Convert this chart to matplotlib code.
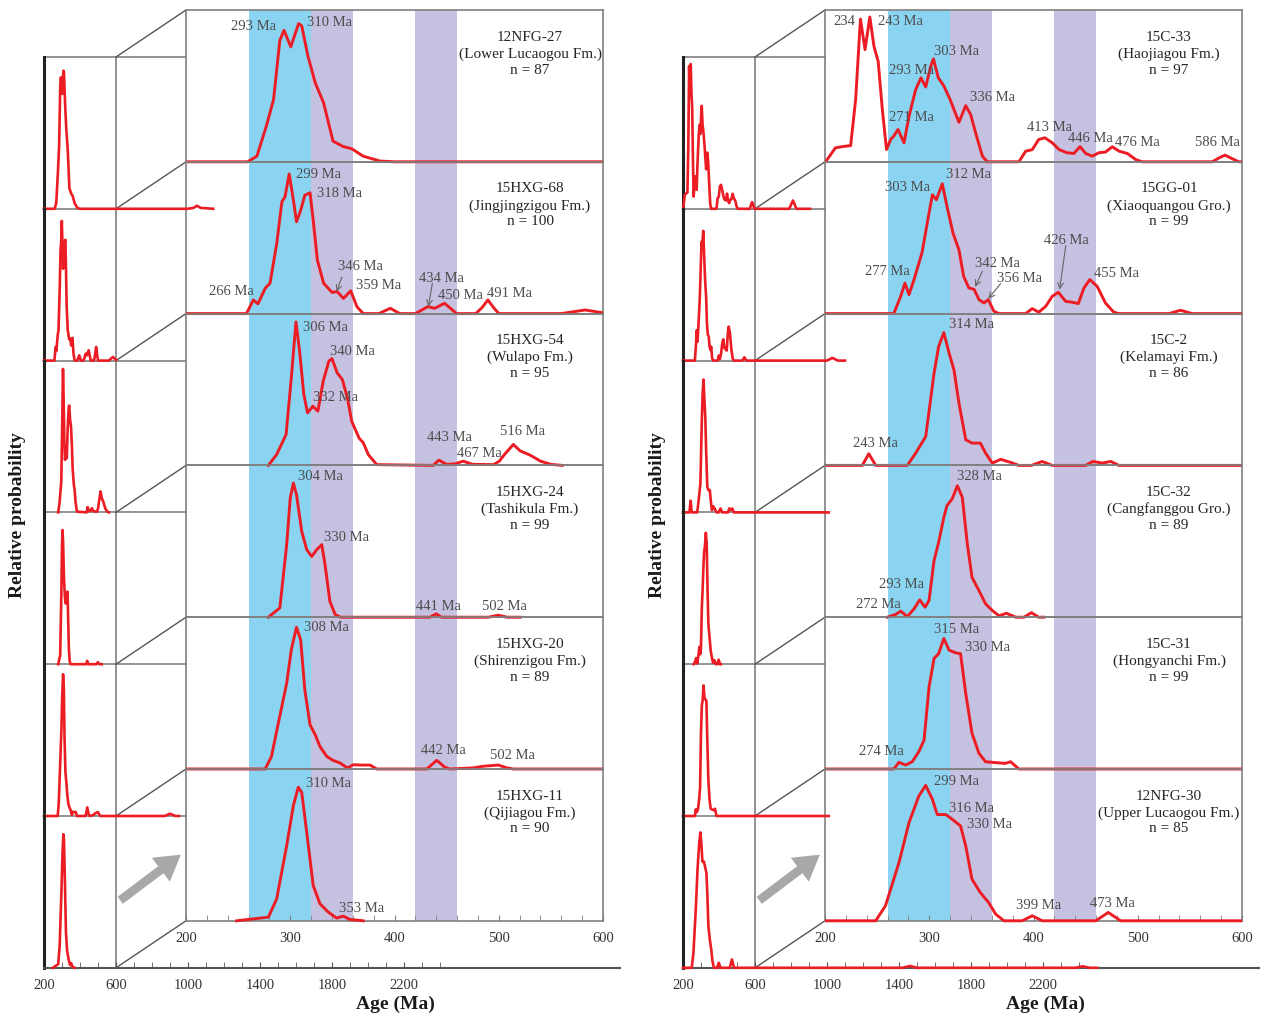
import matplotlib.pyplot as plt
from matplotlib.lines import Line2D
from matplotlib.patches import FancyArrowPatch
from matplotlib.transforms import Bbox, TransformedBbox
from matplotlib.ticker import MultipleLocator, FixedLocator

plt.rcParams['font.family'] = ['Liberation Serif', 'DejaVu Serif']

# ---------------- data ----------------
left_samples = ['12NFG-27', '15HXG-68', '15HXG-54', '15HXG-24', '15HXG-20', '15HXG-11']
left_units = ['(Lower Lucaogou Fm.)', '(Jingjingzigou Fm.)', '(Wulapo Fm.)',
              '(Tashikula Fm.)', '(Shirenzigou Fm.)', '(Qijiagou Fm.)']
left_n = [87, 100, 95, 99, 89, 90]

right_samples = ['15C-33', '15GG-01', '15C-2', '15C-32', '15C-31', '12NFG-30']
right_units = ['(Haojiagou Fm.)', '(Xiaoquangou Gro.)', '(Kelamayi Fm.)',
               '(Cangfanggou Gro.)', '(Hongyanchi Fm.)', '(Upper Lucaogou Fm.)']
right_n = [97, 99, 86, 89, 99, 85]

# shaded age windows (Ma)
bands = [(260, 320), (320, 360), (420, 460)]

# relative probability curves (age in Ma, height as fraction of panel)
age_12NFG27 = [200, 259, 268, 277, 284, 290, 294, 300.5, 308, 311, 317, 324, 332, 341, 351, 359, 370, 386, 400,
               1000, 1030, 1050, 1070, 1140]
rp_12NFG27 = [0, 0, 0.037, 0.234, 0.41, 0.80, 0.866, 0.757, 0.91, 0.896, 0.695, 0.52, 0.388, 0.136, 0.10, 0.086,
              0.037, 0.005, 0, 0, 0.006, 0.02, 0.006, 0]

age_15HXG68 = [200, 258, 264.6, 269, 276, 280.6, 287, 292, 295, 299, 303, 306, 310, 314, 319, 322, 326, 332, 340,
               345, 351, 358, 364, 370, 385, 396, 405, 420, 432, 438.7, 448, 459.6, 478, 484, 489.6, 495, 500,
               560, 583, 600]
rp_15HXG68 = [0, 0, 0.09, 0.064, 0.167, 0.2, 0.46, 0.737, 0.77, 0.92, 0.748, 0.605, 0.68, 0.78, 0.796, 0.616,
              0.353, 0.2, 0.14, 0.145, 0.10, 0.15, 0.045, 0, 0, 0.035, 0, 0, 0.046, 0.035, 0.068, 0, 0, 0.04,
              0.09, 0.04, 0, 0, 0.024, 0.005]

age_15HXG54 = [279, 287, 296, 301, 305.5, 309, 313, 316.6, 321.7, 326.5, 331.6, 337, 340, 345, 350, 354.8, 359,
               366, 370, 375, 383, 437, 442.6, 449.8, 458, 465.8, 475, 495, 500.6, 505.5, 514, 520.6, 530, 540,
               549.8, 561]
rp_15HXG54 = [0, 0.072, 0.204, 0.576, 0.945, 0.75, 0.467, 0.346, 0.39, 0.357, 0.555, 0.686, 0.704, 0.61, 0.565,
              0.445, 0.29, 0.18, 0.149, 0.07, 0.005, 0, 0.035, 0.007, 0.01, 0.028, 0.007, 0.005, 0.028, 0.072,
              0.138, 0.095, 0.068, 0.028, 0.007, 0]

age_15HXG24 = [279, 290, 296.6, 300, 303, 306, 311, 315.8, 320.6, 325.4, 330.2, 333.3, 338, 343, 348, 434, 440,
               445, 490, 499.4, 508, 520.6]
rp_15HXG24 = [0, 0.061, 0.48, 0.785, 0.884, 0.807, 0.566, 0.445, 0.40, 0.445, 0.478, 0.35, 0.105, 0.018, 0, 0,
              0.022, 0, 0, 0.013, 0, 0]

age_15HXG20 = [200, 276, 282, 288.5, 296.6, 301, 306, 310, 314, 319, 324, 328.5, 335, 341, 347.7, 354.8, 360.5,
               368.5, 376.5, 383, 431, 440.5, 448, 453, 475, 485, 499.6, 508, 514, 870, 900, 930, 950]
rp_15HXG20 = [0, 0, 0.083, 0.30, 0.566, 0.785, 0.934, 0.85, 0.52, 0.29, 0.225, 0.148, 0.083, 0.057, 0.04, 0.007,
              0.028, 0.026, 0.026, 0, 0, 0.057, 0.013, 0, 0.007, 0.018, 0.026, 0.007, 0, 0, 0.015, 0, 0]

age_15HXG11 = [248.6, 279, 287, 296.6, 303, 307.7, 311, 315.8, 322, 328.5, 336.5, 344.5, 351, 357, 370]
rp_15HXG11 = [0, 0.024, 0.145, 0.496, 0.76, 0.88, 0.846, 0.584, 0.233, 0.112, 0.057, 0.018, 0.031, 0.009, 0]

age_15C33 = [200.6, 210, 216.6, 224.6, 229.4, 234, 238.4, 243, 247, 251, 255, 259, 263, 266, 270, 275.8, 280.6,
             287, 292, 296.6, 301.4, 304, 308.7, 314, 320, 323.7, 328.5, 335, 339.8, 344.5, 351, 355.7, 386,
             392.5, 398.8, 405, 411, 418, 424.5, 432, 438.8, 444.6, 450, 456.4, 462.8, 469, 475.6, 482, 490, 498,
             504, 571.5, 578, 583.7, 590.7, 597, 790, 811, 830, 906]
rp_15C33 = [0, 0.092, 0.10, 0.107, 0.41, 0.94, 0.739, 0.954, 0.76, 0.662, 0.344, 0.081, 0.147, 0.17, 0.213,
            0.125, 0.30, 0.476, 0.553, 0.493, 0.629, 0.678, 0.553, 0.50, 0.41, 0.344, 0.26, 0.37, 0.31, 0.19,
            0.037, 0, 0, 0.07, 0.08, 0.147, 0.158, 0.125, 0.081, 0.06, 0.055, 0.10, 0.055, 0.037, 0.06, 0.064,
            0.099, 0.07, 0.055, 0.015, 0, 0, 0.026, 0.044, 0.02, 0, 0, 0.055, 0, 0]

age_15GG01 = [200, 266, 272.6, 276.7, 280.6, 285.4, 293, 299.8, 303, 306.8, 312.5, 317, 322.8, 328.5, 333, 338,
              343, 347.7, 352.5, 356.6, 362, 367, 392.5, 398.8, 405, 411.7, 418, 423.8, 430.8, 437, 443, 448.4,
              454, 461, 469, 477, 482, 530, 541, 552, 1000, 1030, 1060, 1100]
rp_15GG01 = [0, 0, 0.114, 0.20, 0.125, 0.224, 0.40, 0.663, 0.783, 0.75, 0.855, 0.706, 0.53, 0.42, 0.245, 0.169,
             0.16, 0.092, 0.07, 0.092, 0.015, 0, 0, 0.033, 0.009, 0.048, 0.114, 0.14, 0.081, 0.075, 0.066, 0.169,
             0.224, 0.18, 0.07, 0.009, 0, 0, 0.022, 0, 0, 0.018, 0, 0]

age_15C2 = [200, 235.8, 242, 248.6, 279, 287, 296.6, 304.6, 309, 314, 319, 323.7, 328.5, 335, 341, 349, 354,
            360.5, 368.5, 378, 386, 398, 408.4, 418, 450, 457, 466, 474, 482, 1010]
rp_15C2 = [0, 0, 0.077, 0, 0, 0.081, 0.19, 0.607, 0.783, 0.875, 0.74, 0.63, 0.41, 0.169, 0.147, 0.147, 0.081,
           0.015, 0.04, 0.02, 0, 0, 0.026, 0, 0, 0.026, 0.015, 0.026, 0, 0]

age_15C32 = [259.8, 267.8, 272.6, 279, 285.4, 290.8, 296, 299.8, 304.6, 309, 314, 317, 322, 327, 331.7, 336.5,
             341, 347.7, 354, 360.5, 367, 374, 383, 391, 398, 405, 410]
rp_15C32 = [0, 0.018, 0.04, 0.004, 0.055, 0.114, 0.066, 0.11, 0.373, 0.493, 0.658, 0.735, 0.78, 0.866, 0.79,
            0.483, 0.263, 0.175, 0.088, 0.044, 0.009, 0.026, 0, 0, 0.03, 0, 0]

age_15C31 = [200, 266, 271, 277.4, 283.7, 290, 295, 299.8, 304.6, 309, 314, 319, 325.4, 330, 335, 341, 347.7,
             354, 363.7, 373, 378, 386, 1010]
rp_15C31 = [0, 0, 0.044, 0.026, 0.048, 0.114, 0.19, 0.54, 0.728, 0.76, 0.86, 0.783, 0.765, 0.76, 0.498, 0.235,
            0.103, 0.048, 0.042, 0.037, 0.048, 0, 0]

age_12NFG30 = [200, 248.6, 258, 271, 280.6, 290, 296.6, 303, 307.7, 315.8, 322, 330, 335, 341, 349, 357, 363.7,
               371.7, 389, 398.8, 408.4, 459.7, 471.7, 483.6, 1420, 1460, 1500, 2380, 2420, 2460, 2500]
rp_12NFG30 = [0, 0, 0.099, 0.384, 0.647, 0.822, 0.892, 0.80, 0.70, 0.70, 0.669, 0.625, 0.493, 0.274, 0.186, 0.12,
              0.044, 0, 0, 0.033, 0, 0, 0.055, 0, 0, 0.012, 0, 0, 0.01, 0, 0]

left_curves = [(age_12NFG27, rp_12NFG27), (age_15HXG68, rp_15HXG68), (age_15HXG54, rp_15HXG54),
               (age_15HXG24, rp_15HXG24), (age_15HXG20, rp_15HXG20), (age_15HXG11, rp_15HXG11)]
right_curves = [(age_15C33, rp_15C33), (age_15GG01, rp_15GG01), (age_15C2, rp_15C2),
                (age_15C32, rp_15C32), (age_15C31, rp_15C31), (age_12NFG30, rp_12NFG30)]

# peak annotations: (text, age, height)
left_peaks = [
    [('293 Ma', 265, 0.89), ('310 Ma', 338, 0.918)],
    [('299 Ma', 327, 0.914), ('318 Ma', 347, 0.793), ('346 Ma', 367, 0.31), ('359 Ma', 384.5, 0.182),
     ('266 Ma', 244, 0.145), ('434 Ma', 445, 0.233), ('450 Ma', 463, 0.119), ('491 Ma', 510, 0.134)],
    [('306 Ma', 334, 0.911), ('340 Ma', 360, 0.753), ('332 Ma', 343, 0.445), ('443 Ma', 453, 0.182),
     ('467 Ma', 481, 0.076), ('516 Ma', 523, 0.226)],
    [('304 Ma', 329, 0.929), ('330 Ma', 353.5, 0.527), ('441 Ma', 442, 0.072), ('502 Ma', 505.5, 0.072)],
    [('308 Ma', 335, 0.929), ('442 Ma', 447, 0.122), ('502 Ma', 513, 0.09)],
    [('310 Ma', 336.5, 0.907), ('353 Ma', 368, 0.084)],
]
right_peaks = [
    [('234', 219, 0.926), ('243 Ma', 272, 0.926), ('303 Ma', 326, 0.729), ('293 Ma', 283, 0.604),
     ('271 Ma', 282.5, 0.29), ('336 Ma', 360.5, 0.426), ('413 Ma', 415.5, 0.228), ('446 Ma', 455, 0.152),
     ('476 Ma', 499.6, 0.125), ('586 Ma', 576, 0.125)],
    [('303 Ma', 279, 0.828), ('312 Ma', 338, 0.916), ('277 Ma', 260, 0.279), ('342 Ma', 365.5, 0.329),
     ('356 Ma', 386.5, 0.228), ('426 Ma', 431.5, 0.483), ('455 Ma', 479.5, 0.263)],
    [('314 Ma', 340.7, 0.927), ('243 Ma', 248, 0.147)],
    [('328 Ma', 348.4, 0.927), ('293 Ma', 273.6, 0.215), ('272 Ma', 251, 0.084)],
    [('315 Ma', 326, 0.92), ('330 Ma', 355.7, 0.80), ('274 Ma', 254.4, 0.114)],
    [('299 Ma', 326, 0.916), ('316 Ma', 340.7, 0.74), ('330 Ma', 358, 0.636), ('399 Ma', 405.3, 0.099),
     ('473 Ma', 475.6, 0.116)],
]
# leader arrows: (row, (age_from, h_from), (age_to, h_to))
left_leaders = [(1, (349.5, 0.24), (344.4, 0.145)), (1, (436.3, 0.20), (432.5, 0.046))]
right_leaders = [(1, (351, 0.279), (344, 0.176)), (1, (368.5, 0.198), (356.6, 0.097)),
                 (1, (431, 0.448), (425, 0.158))]

# ---------------- layout ----------------
W, H = 1267, 1016
ROW = 151.8
RED = '#ec1c24'
GRAY = '#808080'
band_colors = ['#8ad4f2', '#c5c1e0', '#c5c1e0']

fig = plt.figure(figsize=(W / 100, H / 100), dpi=100)


def rect(x0, y0, x1, y1):
    return [x0 / W, 1 - y1 / H, (x1 - x0) / W, (y1 - y0) / H]


def fline(x0, y0, x1, y1, **kw):
    fig.add_artist(Line2D([x0 / W, x1 / W], [1 - y0 / H, 1 - y1 / H], transform=fig.transFigure, **kw))


def draw_panel(ox, names, units, counts, curves, peaks, leaders, xlab_x):
    zx0, zx1 = 186 + ox, 603 + ox
    sx0, sx1 = 44 + ox, 620 + ox

    # background bands across the whole zoom box
    bg = fig.add_axes(rect(zx0, 10, zx1, 10 + 6 * ROW))
    bg.set_xlim(200, 600)
    for (a, b), c in zip(bands, band_colors):
        bg.axvspan(a, b, color=c, lw=0)
    bg.axis('off')

    # zoomed panels 200-600 Ma
    for i in range(6):
        top = 10 + i * ROW
        ax = fig.add_axes(rect(zx0, top, zx1, top + ROW))
        ax.set_facecolor('none')
        ax.set_xlim(200, 600)
        ax.set_ylim(0, 1)
        ages, rp = curves[i]
        ln, = ax.plot(ages, rp, color=RED, lw=2.1, zorder=3, solid_joinstyle='round')
        ln.set_clip_box(TransformedBbox(Bbox([[0, -0.05], [1, 1.05]]), ax.transAxes))
        for s in ax.spines.values():
            s.set_color(GRAY)
            s.set_linewidth(1.2)
        ax.set_yticks([])
        if i == 5:
            ax.set_xticks([200, 300, 400, 500, 600])
            ax.xaxis.set_minor_locator(MultipleLocator(20))
            ax.tick_params(axis='x', which='both', direction='in', length=4, color=GRAY,
                           labelsize=10.5, labelcolor='#333333', pad=8)
        else:
            ax.set_xticks([])
        ax.text(0.825, 1 - 27 / ROW, names[i], transform=ax.transAxes, ha='center', va='center',
                fontsize=11, color='#262626')
        ax.text(0.825, 1 - 44 / ROW, units[i], transform=ax.transAxes, ha='center', va='center',
                fontsize=11, color='#262626')
        ax.text(0.825, 1 - 60 / ROW, 'n = %d' % counts[i], transform=ax.transAxes, ha='center',
                va='center', fontsize=11, color='#262626')
        for t, a, h in peaks[i]:
            ax.text(a, h, t, ha='center', va='center', fontsize=10.5, color='#4d4d4d', zorder=4)
        for r, p0, p1 in leaders:
            if r == i:
                ax.annotate('', xy=p1, xytext=p0,
                            arrowprops=dict(arrowstyle='->', color='#666666', lw=0.8, shrinkA=0, shrinkB=0))

    # full-range panels (front face)
    for i in range(6):
        top = 57 + i * ROW
        sa = fig.add_axes(rect(sx0, top, sx1, top + ROW))
        sa.set_facecolor('none')
        sa.set_xlim(200, 3400)
        sa.set_ylim(0, 1)
        ages, rp = curves[i]
        sa.plot(ages, rp, color=RED, lw=1.9, clip_on=False, zorder=3, solid_joinstyle='round')
        sa.spines['top'].set_visible(False)
        sa.spines['right'].set_visible(False)
        sa.spines['left'].set_color('#222222')
        sa.spines['left'].set_linewidth(2.2)
        sa.set_yticks([])
        if i == 5:
            sa.spines['bottom'].set_color('#555555')
            sa.spines['bottom'].set_linewidth(1.5)
            sa.set_xticks([200, 600, 1000, 1400, 1800, 2200])
            sa.xaxis.set_minor_locator(FixedLocator(list(range(300, 2401, 100))))
            sa.tick_params(axis='x', which='both', direction='in', length=4, color='#555555',
                           labelsize=10.5, labelcolor='#333333', pad=8)
        else:
            sa.spines['bottom'].set_visible(False)
            sa.set_xticks([])

    # perspective frame lines
    fline(116 + ox, 57, 116 + ox, 57 + 6 * ROW, color=GRAY, lw=1.2, zorder=-1)
    for k in range(7):
        yb = 57 + k * ROW
        fline(44 + ox, yb, 186 + ox, yb, color=GRAY, lw=1.2, zorder=-1)
        fline(116 + ox, yb, 186 + ox, yb - 47, color='#555555', lw=1.0, zorder=-1)

    # gray arrow
    fig.add_artist(FancyArrowPatch(((118 + ox) / W, 1 - 902 / H), ((183 + ox) / W, 1 - 853 / H),
                                   transform=fig.transFigure,
                                   arrowstyle='simple,head_length=1.0,head_width=1.2,tail_width=0.35',
                                   mutation_scale=18, color='#a8a8a8', lw=0))

    fig.text((18 + ox) / W, 1 - 515 / H, 'Relative probability', rotation=90, ha='center', va='center',
             fontsize=14, fontweight='bold', color='#1a1a1a')
    fig.text(xlab_x / W, 1 - 1004 / H, 'Age (Ma)', ha='center', va='center', fontsize=14,
             fontweight='bold', color='#1a1a1a')


draw_panel(0, left_samples, left_units, left_n, left_curves, left_peaks, left_leaders, 395)
draw_panel(639, right_samples, right_units, right_n, right_curves, right_peaks, right_leaders, 1045)

fig.savefig('out.png', dpi=100)
